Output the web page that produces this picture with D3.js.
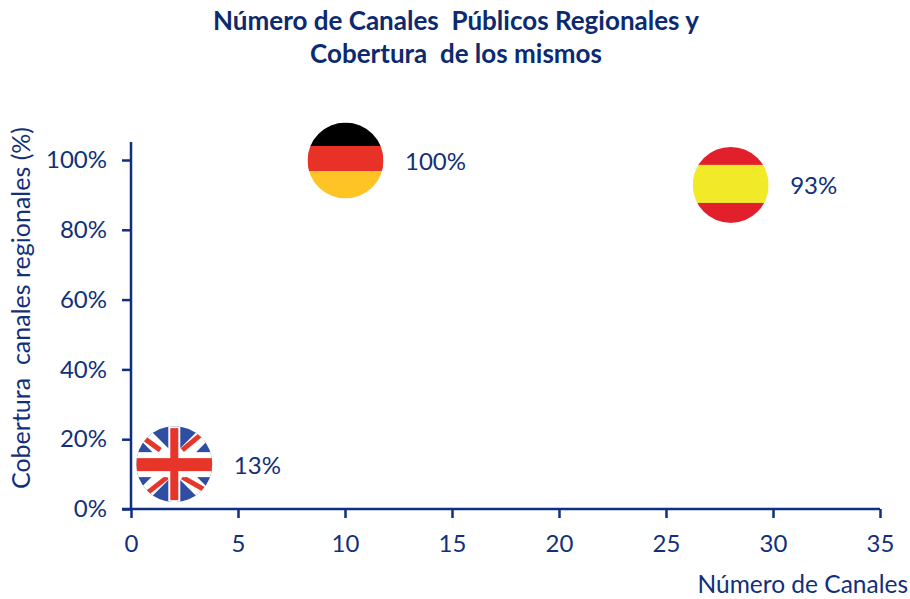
<!DOCTYPE html>
<html><head><meta charset="utf-8">
<script src="https://cdnjs.cloudflare.com/ajax/libs/d3/7.8.5/d3.min.js"></script>
<style>html,body{margin:0;padding:0;background:#fff}svg{display:block}text{font-family:Lato,sans-serif;fill:#12307a}</style>
</head><body><div id="c"></div>
<script>
const countries = ["UK","Alemania","España"];
const channels = [2,10,28];
const coverage = [13,100,93];
const labels = ["13%","100%","93%"];
const xTicks = [0,5,10,15,20,25,30,35];
const yTicks = [0,20,40,60,80,100];
const navy = "#0f2f80";
const W=910,H=599,R=38;
const svg=d3.select("#c").append("svg").attr("width",W).attr("height",H);
const x=d3.scaleLinear().domain([0,35]).range([131,880]);
const y=d3.scaleLinear().domain([0,100]).range([509,160]);

const title=svg.append("g").attr("text-anchor","middle").style("font-weight",700).style("font-size","26px");
title.append("text").attr("x",456).attr("y",30).attr("xml:space","preserve").style("fill","#0c2a70").text("Número de Canales  Públicos Regionales y");
title.append("text").attr("x",456).attr("y",63).attr("xml:space","preserve").style("fill","#0c2a70").text("Cobertura  de los mismos");

const gx=svg.append("g").attr("transform","translate(0,509)").call(d3.axisBottom(x).tickValues(xTicks).tickSize(8).tickSizeOuter(0).tickPadding(18));
const gy=svg.append("g").attr("transform","translate(131,0)").call(d3.axisLeft(y).tickValues(yTicks).tickSize(8).tickFormat(d=>d+"%").tickPadding(16));
gy.select(".domain").attr("d","M0,510V142");
gx.select(".domain").attr("d","M122,0H880");
[gx,gy].forEach(g=>{
  g.selectAll(".domain,.tick line").attr("stroke",navy).attr("stroke-width",2.5);
  g.selectAll(".tick text").style("font-size","24px").style("fill","#12307a").attr("font-family","Lato");
});
gx.selectAll(".tick line").attr("y1",0).attr("y2",9);
gy.selectAll(".tick line").attr("x1",-9).attr("x2",0);

svg.append("text").attr("x",908).attr("y",593).attr("text-anchor","end").style("font-size","24.5px").text("Número de Canales");
svg.append("text").attr("transform","translate(30,308) rotate(-90)").attr("text-anchor","middle").style("font-size","25px").attr("xml:space","preserve").text("Cobertura  canales regionales (%)");

const defs=svg.append("defs");
function flag(i,draw){
  const id="clip"+i, g=svg.append("g").attr("transform",`translate(${x(channels[i])+0.5},${y(coverage[i])+0.5})`);
  defs.append("clipPath").attr("id",id).append("circle").attr("r",R);
  draw(g.append("g").attr("clip-path",`url(#${id})`));
}
const band=(f,y0,y1,c)=>f.append("rect").attr("x",-R).attr("width",2*R).attr("y",y0).attr("height",y1-y0).attr("fill",c);
// UK
flag(0,f=>{
  f.append("rect").attr("x",-R).attr("y",-R).attr("width",2*R).attr("height",2*R).attr("fill","#2f4ea3");
  [[-1,-1,1,1],[-1,1,1,-1]].forEach(a=>{
    f.append("line").attr("x1",a[0]*R).attr("y1",a[1]*R).attr("x2",a[2]*R).attr("y2",a[3]*R).attr("stroke","#fff").attr("stroke-width",14);
  });
  [[-29,-25,-14,-14],[8,-14,26,-29],[-26,28,-7,13],[8,13,29,25]].forEach(a=>{
    f.append("line").attr("x1",a[0]).attr("y1",a[1]).attr("x2",a[2]).attr("y2",a[3]).attr("stroke","#e8352a").attr("stroke-width",5);
  });
  f.append("rect").attr("x",-6).attr("y",-R).attr("width",12).attr("height",2*R).attr("fill","#fff");
  f.append("rect").attr("x",-R).attr("y",-12).attr("width",2*R).attr("height",25).attr("fill","#fff");
  f.append("rect").attr("x",-4).attr("y",-R+2).attr("width",8).attr("height",2*R-4).attr("fill","#e8352a");
  f.append("rect").attr("x",-R).attr("y",-6).attr("width",2*R).attr("height",13).attr("fill","#e8352a");
});
// Germany
flag(1,f=>{band(f,-R,-14.5,"#000");band(f,-14.5,10.5,"#e93227");band(f,10.5,R,"#fec325");});
// Spain
flag(2,f=>{band(f,-R,-20,"#e1202b");band(f,-20,18,"#f0ea29");band(f,18,R,"#e1202b");});
// labels
const off=[60,60,60];
svg.append("g").selectAll("text").data(labels).join("text")
 .attr("x",(d,i)=>x(channels[i])+off[i]).attr("y",(d,i)=>y(coverage[i])+10).style("font-size","24px").text(d=>d);
</script></body></html>
